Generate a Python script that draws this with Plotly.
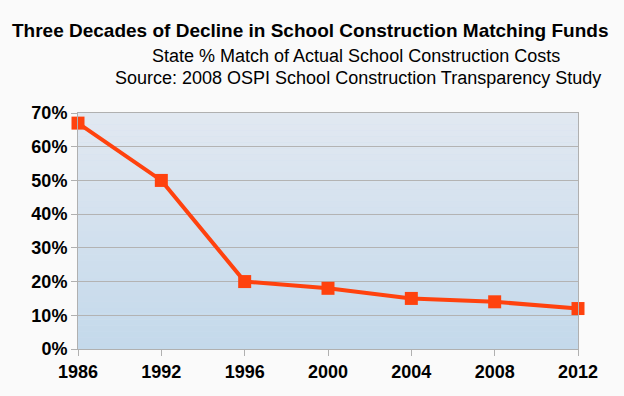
import plotly.graph_objects as go

years = ["1986", "1992", "1996", "2000", "2004", "2008", "2012"]
match_pct = [0.67, 0.50, 0.20, 0.18, 0.15, 0.14, 0.12]
y_ticks = [0, 0.1, 0.2, 0.3, 0.4, 0.5, 0.6, 0.7]

fig = go.Figure()
fig.add_trace(go.Scatter(
    x=years, y=match_pct, mode="lines+markers",
    line=dict(color="#ff420e", width=4),
    marker=dict(symbol="square", size=13, color="#ff420e"),
    cliponaxis=False, showlegend=False, hoverinfo="skip",
))

# vertical gradient background for plot area
top = (225, 232, 241)
bot = (196, 217, 235)
n = 40
shapes = []
for i in range(n):
    t = i / (n - 1)
    c = tuple(round(top[k] + (bot[k] - top[k]) * t) for k in range(3))
    shapes.append(dict(type="rect", xref="paper", yref="paper",
                       x0=0, x1=1, y0=1 - (i + 1) / n, y1=1 - i / n,
                       fillcolor="rgb(%d,%d,%d)" % c, line=dict(width=0),
                       layer="below"))

L, R, T, B = 78, 46, 113, 47
plot_w = 624 - L - R
plot_h = 396 - T - B
def px(xp):
    return (xp - L) / plot_w
def py(yp):
    return (396 - B - yp) / plot_h

tickfont = dict(size=18, family="Liberation Sans, Arial", weight="bold", color="#000")

fig.update_layout(
    width=624, height=396,
    paper_bgcolor="#fafafa", plot_bgcolor="#d0e0ee",
    margin=dict(l=L, r=R, t=T, b=B),
    font=dict(family="Liberation Sans, Arial, sans-serif", color="#000"),
    shapes=shapes,
    annotations=[
        dict(text="<b>Three Decades of Decline in School Construction Matching Funds</b>",
             xref="paper", yref="paper", x=px(310), y=py(30),
             xanchor="center", yanchor="middle",
             showarrow=False, font=dict(size=19)),
        dict(text="State % Match of Actual School Construction Costs",
             xref="paper", yref="paper", x=px(356), y=py(56),
             xanchor="center", yanchor="middle",
             showarrow=False, font=dict(size=18)),
        dict(text="Source: 2008 OSPI School Construction Transparency Study",
             xref="paper", yref="paper", x=px(358), y=py(78),
             xanchor="center", yanchor="middle",
             showarrow=False, font=dict(size=18)),
    ],
    xaxis=dict(type="category", range=[0, 6], showgrid=False,
               showline=True, linecolor="#b0b0b0", linewidth=1, mirror=True,
               ticks="outside", ticklen=6, tickcolor="#b0b0b0",
               tickfont=tickfont),
    yaxis=dict(range=[0, 0.7], tickvals=y_ticks, tickformat=".0%",
               showgrid=True, gridcolor="#b3b3b3", gridwidth=1,
               showline=True, linecolor="#b0b0b0", linewidth=1, mirror=True,
               ticks="outside", ticklen=6, tickcolor="#b0b0b0",
               tickfont=tickfont, zeroline=False),
)

fig.write_html("out.html", config={"displayModeBar": False},
               post_script="document.body.style.margin='0';")
